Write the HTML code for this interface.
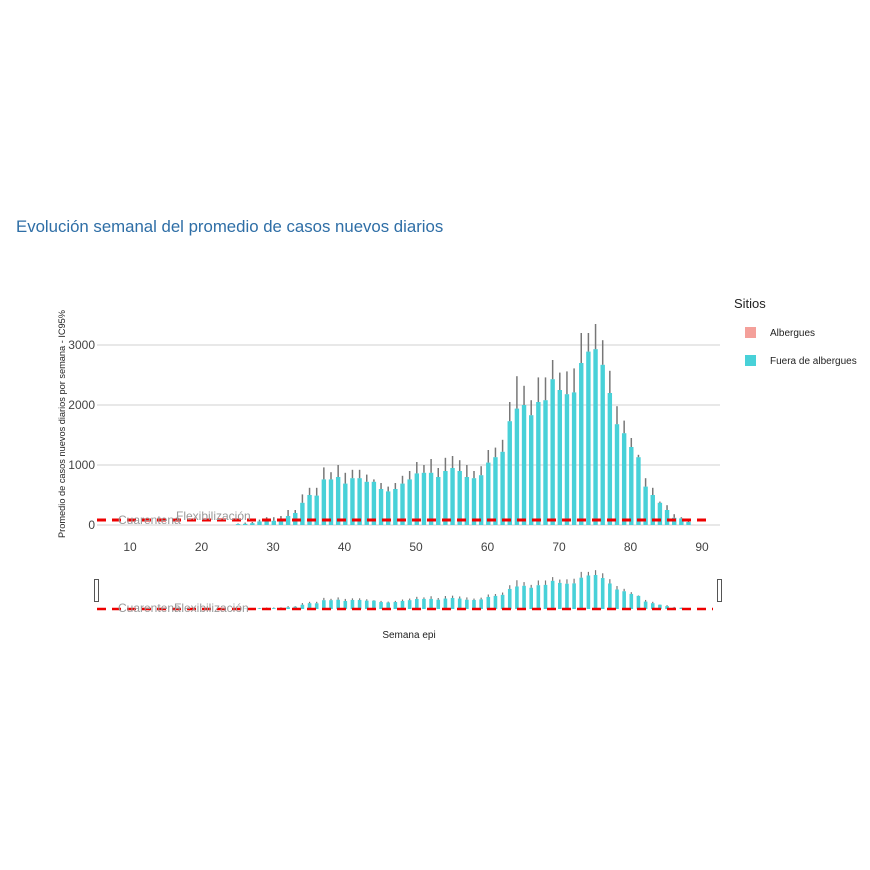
<!DOCTYPE html>
<html><head><meta charset="utf-8"><style>
html,body{margin:0;padding:0;background:#fff;width:870px;height:870px;overflow:hidden}
text{font-family:"Liberation Sans",sans-serif}
</style></head><body>
<svg id="s" width="870" height="870" xmlns="http://www.w3.org/2000/svg">
<text x="16" y="232" font-size="16.8" fill="#2e6ea6">Evolución semanal del promedio de casos nuevos diarios</text>
<g stroke="#d0d0d0" stroke-width="1">
<line x1="97" x2="720" y1="525" y2="525"/>
<line x1="97" x2="720" y1="465" y2="465"/>
<line x1="97" x2="720" y1="405" y2="405"/>
<line x1="97" x2="720" y1="345" y2="345"/>
</g>
<g font-size="12" fill="#444" text-anchor="end">
<text x="95" y="529">0</text><text x="95" y="469">1000</text><text x="95" y="409">2000</text><text x="95" y="349">3000</text>
</g>
<g font-size="12" fill="#444" text-anchor="middle">
<text x="130" y="551">10</text><text x="201.5" y="551">20</text><text x="273" y="551">30</text><text x="344.5" y="551">40</text><text x="416" y="551">50</text><text x="487.5" y="551">60</text><text x="559" y="551">70</text><text x="630.5" y="551">80</text><text x="702" y="551">90</text>
</g>
<text transform="translate(65,424) rotate(-90)" font-size="9.5" fill="#222" text-anchor="middle" textLength="228" lengthAdjust="spacingAndGlyphs">Promedio de casos nuevos diarios por semana - IC95%</text>
<g id="bars"></g>
<line x1="97" x2="712" y1="520" y2="520" stroke="#ee0000" stroke-width="3" stroke-dasharray="9,6"/>
<text x="118" y="524" font-size="12" fill="#999">Cuarentena</text>
<text x="176" y="520" font-size="12" fill="#999">Flexibilización</text>
<g id="mini"></g>
<line x1="97" x2="713" y1="609" y2="609" stroke="#ee0000" stroke-width="2.5" stroke-dasharray="9,6"/>
<text x="118" y="612" font-size="12" fill="#999">Cuarentena</text>
<text x="174" y="612" font-size="12" fill="#999">Flexibilización</text>
<rect x="94.5" y="579.5" width="4" height="22" fill="#fff" stroke="#555"/>
<rect x="717.5" y="579.5" width="4" height="22" fill="#fff" stroke="#555"/>
<text x="409" y="638" font-size="10" fill="#222" text-anchor="middle">Semana epi</text>
<text x="734" y="308" font-size="13" fill="#222">Sitios</text>
<rect x="745" y="327" width="11" height="11" fill="#f4a09a"/>
<text x="770" y="336" font-size="10" fill="#222">Albergues</text>
<rect x="745" y="355" width="11" height="11" fill="#48d1d8"/>
<text x="770" y="364" font-size="10" fill="#222">Fuera de albergues</text>
</svg>
<script>
var d=[[24,15,25],[25,20,40],[26,30,50],[27,60,90],[28,80,130],[29,70,130],[30,100,150],[31,150,250],[32,200,250],[33,370,510],[34,500,620],[35,490,620],[36,760,960],[37,760,880],[38,800,1000],[39,690,870],[40,780,920],[41,780,920],[42,720,840],[43,720,760],[44,600,700],[45,560,640],[46,600,700],[47,690,820],[48,760,900],[49,860,1050],[50,870,1000],[51,870,1100],[52,800,950],[53,900,1120],[54,950,1150],[55,900,1080],[56,800,1000],[57,780,900],[58,830,980],[59,1040,1250],[60,1130,1290],[61,1220,1420],[62,1730,2050],[63,1940,2480],[64,2000,2320],[65,1830,2080],[66,2050,2460],[67,2080,2460],[68,2430,2750],[69,2250,2540],[70,2180,2560],[71,2210,2610],[72,2700,3200],[73,2890,3200],[74,2930,3350],[75,2670,3080],[76,2200,2570],[77,1680,1980],[78,1530,1740],[79,1300,1450],[80,1130,1170],[81,640,780],[82,500,620],[83,370,390],[84,250,330],[85,120,180],[86,110,130],[87,50,60]];
var b='',m='';
d.forEach(function(r){
 var w=r[0]+1,x=130+(w-10)*7.15+0.8,y=525-r[1]*0.06,u=525-r[2]*0.06;
 b+='<rect x="'+(x-2.2)+'" y="'+y+'" width="4.4" height="'+(525-y)+'" fill="#48d1d8"/>';
 b+='<line x1="'+x+'" x2="'+x+'" y1="'+u+'" y2="'+y+'" stroke="#777" stroke-width="1.5"/>';
 var mx=x,my=609-r[1]*0.0116,mu=609-r[2]*0.0116;
 m+='<rect x="'+(mx-1.8)+'" y="'+my+'" width="3.6" height="'+(609-my)+'" fill="#48d1d8"/>';
 m+='<line x1="'+mx+'" x2="'+mx+'" y1="'+mu+'" y2="'+my+'" stroke="#777" stroke-width="1.2"/>';
});
document.getElementById('bars').innerHTML=b;
document.getElementById('mini').innerHTML=m;
</script>
</body></html>
